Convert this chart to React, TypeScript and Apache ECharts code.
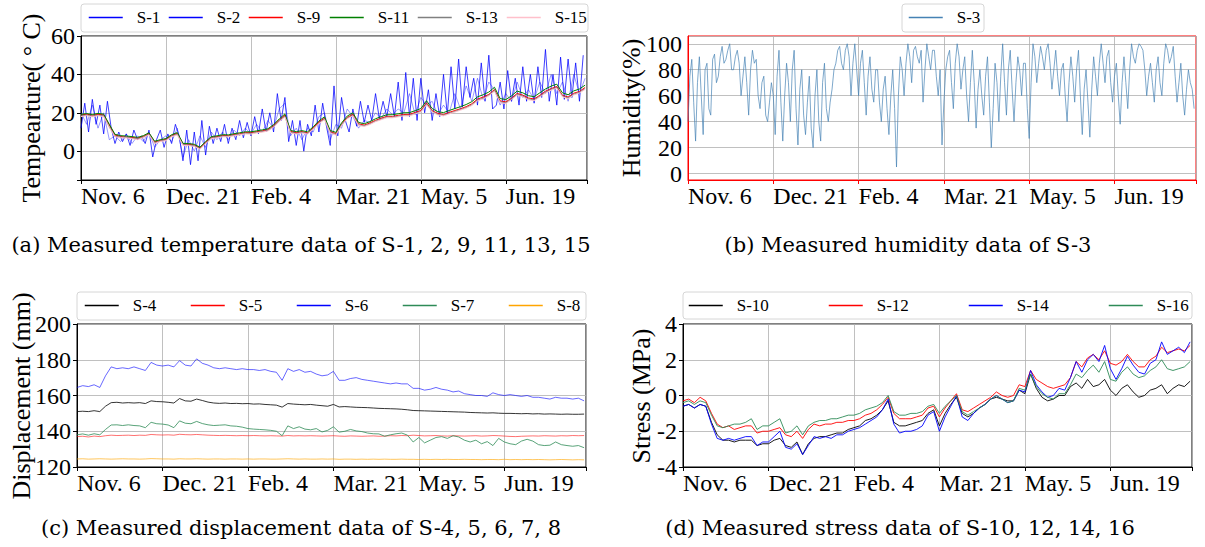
import React, { useEffect, useRef } from 'react';
import * as echarts from 'echarts';

const FONT = 'Liberation Serif';
const CAP_FONT = 'DejaVu Serif';

const TICK_DAYS = [0, 45, 90, 135, 180, 225];
const TICK_LABELS = ['Nov. 6', 'Dec. 21', 'Feb. 4', 'Mar. 21', 'May. 5', 'Jun. 19'];
const X_MAX = 268;
const DAYS = Array.from({ length: 90 }, (_, i) => i * 3);
const DAYS2 = Array.from({ length: 134 }, (_, i) => i * 2);
const DAYS1 = Array.from({ length: 268 }, (_, i) => i);

// (a) temperature
const S1 = [
  12, 25, 10, 27, 14, 24, 9, 26, 12, 4,
  10, 5, 9, 3, 11, 6, 8, 4, 11, -3,
  6, 11, 2, 9, 4, 14, 8, -5, 11, -7,
  10, -5, 16, -2, 13, 4, 12, 5, 14, 4,
  12, 6, 16, 7, 15, 8, 18, 9, 22, 10,
  20, 10, 30, 16, 28, 5, 16, 3, 16, 0,
  14, 8, 24, 10, 25, 13, 3, 34, 8, 28,
  16, 10, 22, 13, 26, 15, 24, 16, 30, 17,
  26, 18, 30, 18, 36, 16, 41, 18, 38, 16,
  38, 20, 32, 16, 30, 18, 40, 19, 44, 22,
  48, 23, 44, 28, 38, 24, 46, 26, 50, 22,
  24, 36, 22, 42, 26, 38, 24, 44, 26, 40,
  25, 44, 28, 53, 26, 40, 24, 49, 27, 48,
  28, 46, 26, 50,
];
const S2 = [
  20, 14, 24, 12, 20, 6, 8, 5, 9, 4,
  8, 5, 10, 2, 6, 8, 5, 12, -3, 6,
  0, 8, 2, 10, 6, 10, 6, 11, 8, 12,
  9, 14, 10, 16, 12, 22, 25, 8, 12, 6,
  12, 10, 18, 20, 6, 14, 12, 22, 18, 12,
  16, 15, 20, 17, 22, 19, 22, 20, 30, 19,
  28, 24, 26, 19, 24, 20, 30, 22, 34, 26,
  38, 27, 36, 32, 24, 30, 26, 36, 28, 32,
  27, 36, 30, 40, 30, 36, 26, 40, 30, 38,
];
const S9 = [
  18.8, 19.3, 18.7, 19.2, 18.9, 13.6, 8.4, 7.7, 7.3, 7.2,
  6.8, 7.7, 9.2, 4.8, 5.6, 6.2, 8.2, 9.3, 3.8, 3.6,
  3.2, 1.7, 4.7, 7.2, 7.6, 8.2, 8.1, 8.7, 9.1, 9.7,
  9.6, 10.2, 10.6, 11.2, 13.3, 16.2, 18.8, 10.3, 9.7, 10.2,
  9.6, 12.1, 15.2, 17.2, 10.2, 9.2, 14.1, 17.6, 19.2, 14.3,
  13.6, 14.7, 16.1, 17.2, 18.2, 18.1, 18.7, 19.1, 19.2, 20.2,
  21.2, 25.2, 21.1, 19.7, 19.1, 20.2, 21.2, 22.1, 23.2, 24.7,
  27.1, 28.2, 29.6, 32.1, 26.2, 25.7, 27.6, 30.1, 29.2, 27.7,
  27.2, 29.1, 31.2, 32.6, 33.7, 29.1, 28.2, 30.2, 31.1, 33.2,
];
const S11 = [
  19.2, 19.6, 19.1, 19.7, 19.3, 14.0, 8.8, 8.1, 7.9, 7.6,
  7.2, 8.1, 9.6, 5.2, 6.0, 6.6, 8.6, 9.7, 4.1, 4.0,
  3.6, 2.1, 5.0, 7.6, 8.0, 8.6, 8.5, 9.1, 9.6, 10.1,
  10.1, 10.6, 11.1, 11.7, 13.8, 16.8, 19.4, 10.8, 10.2, 10.7,
  10.1, 12.7, 15.8, 17.9, 10.8, 9.8, 14.7, 18.3, 20.0, 15.0,
  14.3, 15.4, 16.9, 18.0, 19.0, 19.0, 19.5, 20.0, 20.1, 21.1,
  22.2, 26.3, 22.2, 20.6, 20.1, 21.2, 22.2, 23.2, 24.3, 25.8,
  28.3, 29.4, 30.8, 33.3, 27.4, 26.9, 28.8, 31.3, 30.4, 28.9,
  28.4, 30.4, 32.4, 33.9, 34.9, 30.4, 29.4, 31.4, 32.4, 34.4,
];
const S13 = [
  18.3, 18.8, 18.2, 18.8, 18.3, 12.6, 7.8, 7.3, 7.2, 6.8,
  6.3, 7.3, 8.8, 4.3, 5.3, 5.8, 7.8, 8.8, 3.3, 3.2,
  2.8, 1.3, 4.2, 6.8, 7.2, 7.8, 7.8, 8.3, 8.8, 9.3,
  9.2, 9.8, 10.2, 10.8, 12.8, 15.8, 18.2, 9.8, 9.2, 9.8,
  9.2, 11.8, 14.7, 16.7, 9.7, 8.7, 13.7, 17.2, 18.7, 13.7,
  13.2, 14.2, 15.7, 16.7, 17.7, 17.7, 18.2, 18.7, 18.7, 19.7,
  20.7, 24.6, 20.7, 19.2, 18.7, 19.7, 20.7, 21.7, 22.7, 24.2,
  26.6, 27.6, 29.2, 31.6, 25.7, 25.2, 27.2, 29.6, 28.7, 27.2,
  26.7, 28.6, 30.6, 32.2, 33.2, 28.7, 27.7, 29.7, 30.7, 32.6,
];
const S15 = [
  18.0, 18.5, 17.9, 18.5, 18.0, 12.3, 7.5, 7.0, 6.9, 6.5,
  6.0, 7.0, 8.5, 4.0, 5.0, 5.5, 7.5, 8.5, 3.0, 2.9,
  2.5, 1.0, 3.9, 6.5, 6.9, 7.5, 7.5, 8.0, 8.5, 9.0,
  8.9, 9.5, 9.9, 10.5, 12.5, 15.4, 17.8, 9.5, 8.9, 9.5,
  8.9, 11.5, 14.4, 16.4, 9.4, 8.4, 13.4, 16.9, 18.4, 13.4,
  12.9, 13.9, 15.4, 16.4, 17.4, 17.4, 17.9, 18.4, 18.4, 19.4,
  20.4, 24.2, 20.4, 18.9, 18.4, 19.4, 20.4, 21.4, 22.4, 23.8,
  26.2, 27.2, 28.8, 31.2, 25.3, 24.8, 26.8, 29.2, 28.3, 26.8,
  26.3, 28.2, 30.2, 31.8, 32.8, 28.3, 27.3, 29.3, 30.3, 32.2,
];

// (b) humidity, one value per day
const S3 = [
  40, 75, 88, 55, 25, 70, 90, 60, 30, 80,
  85, 50, 45, 88, 92, 70, 75, 90, 98, 85,
  88, 95, 100, 80, 80, 90, 95, 85, 60, 75,
  90, 70, 45, 80, 95, 85, 88, 60, 50, 70,
  75, 45, 40, 55, 70, 60, 30, 75, 95, 55,
  25, 60, 85, 70, 40, 80, 95, 50, 22, 65,
  80, 45, 30, 55, 75, 35, 20, 60, 80, 40,
  25, 70, 85, 50, 40, 55, 65, 80, 85, 95,
  98, 85, 80, 95, 100, 90, 60, 85, 100, 80,
  60, 85, 95, 70, 45, 75, 90, 65, 55, 80,
  80, 55, 40, 65, 75, 50, 30, 60, 80, 50,
  5, 60, 90, 80, 60, 85, 100, 90, 70, 95,
  98, 90, 85, 95, 55, 80, 100, 90, 80, 95,
  95, 75, 60, 80, 22, 55, 80, 90, 95, 70,
  50, 85, 100, 90, 65, 80, 90, 60, 40, 70,
  95, 70, 35, 65, 80, 60, 45, 75, 90, 55,
  20, 50, 85, 70, 40, 75, 100, 70, 45, 80,
  95, 65, 40, 70, 90, 80, 60, 85, 85, 50,
  27, 70, 100, 90, 70, 85, 98, 90, 80, 95,
  100, 85, 65, 80, 95, 75, 60, 80, 85, 60,
  40, 70, 90, 75, 55, 80, 95, 60, 30, 65,
  80, 55, 28, 65, 90, 75, 60, 85, 100, 85,
  70, 90, 95, 70, 55, 75, 85, 60, 38, 70,
  90, 70, 50, 80, 100, 90, 85, 95, 100, 98,
  95, 80, 60, 75, 85, 70, 55, 80, 90, 70,
  60, 85, 100, 95, 85, 90, 98, 75, 55, 70,
  85, 60, 45, 65, 80, 70, 65, 50,
];

// (c) displacement
const S4 = [
  151, 151.2, 151, 151.5, 151, 154, 156, 156.2, 155.8, 156,
  155.8, 156, 155.5, 157, 156.6, 156.5, 156.2, 155.8, 158.3, 157,
  156.8, 158, 157.2, 156.3, 155.8, 155.6, 155.8, 155.5, 155.6, 155.4,
  155.5, 155.2, 155.3, 155, 154.8, 154.6, 153.5, 155.5, 155.2, 155,
  154.8, 155, 154.6, 154.3, 154, 155, 153.6, 153.8, 153.6, 153.4,
  153.3, 153.2, 153, 152.8, 152.7, 152.6, 152.5, 152.3, 152, 151.6,
  151.5, 151.4, 151.3, 151.2, 151.1, 151, 150.9, 150.8, 150.7, 150.5,
  150.4, 150.3, 150.2, 150.3, 150.1, 150, 150, 149.9, 149.8, 149.9,
  149.7, 149.8, 149.6, 149.7, 149.6, 149.5, 149.6, 149.5, 149.5, 149.6,
];
const S5 = [
  137, 137.2, 136.8, 137.3, 137, 137.5, 137.8, 137.6, 137.7, 137.8,
  137.6, 137.8, 137.7, 138.2, 138, 137.9, 138, 137.8, 138.3, 138.1,
  138, 138.2, 138, 137.8, 137.7, 137.6, 137.7, 137.6, 137.5, 137.6,
  137.5, 137.6, 137.5, 137.4, 137.5, 137.4, 137.3, 137.6, 137.4, 137.5,
  137.4, 137.5, 137.4, 137.3, 137.4, 137.5, 137.3, 137.2, 137.4, 137.3,
  137.2, 137.3, 137.4, 137.2, 137.3, 137.5, 137.4, 137.6, 137.5, 137.8,
  137.6, 137.4, 137.5, 137.6, 137.4, 137.3, 137.5, 137.4, 137.3, 137.4,
  137.5, 137.3, 137.4, 137.6, 137.5, 137.3, 137.1, 137.0, 137.2, 137.3,
  137.4, 137.3, 137.5, 137.4, 137.3, 137.5, 137.4, 137.6, 137.5, 137.6,
];
const S6 = [
  164.5, 165.5, 165, 166, 164.5, 171, 176, 175, 175.5, 175,
  176, 175, 174, 178.5, 177, 176.5, 177, 176, 179.5, 177,
  176.5, 180.5, 178, 177, 175.5, 175, 175.5, 175, 174.5, 175,
  174.5, 174.5, 174, 174.5, 173.5, 173, 168.5, 175, 173.5, 174.5,
  173, 173.5, 172, 171, 171.5, 173.5, 168.5, 168.5, 169.5, 170,
  169, 168.5, 168, 167.5, 167, 166.5, 167, 166.5, 166.5, 164,
  164, 163, 163.5, 164.5, 163.5, 163, 162, 162.5, 161, 160.5,
  160, 160, 159.5, 161.5, 160.5, 160, 160.5, 160, 159.5, 160,
  159, 159, 158.5, 158, 159, 158.5, 158.5, 158, 158.5, 157,
];
const S7 = [
  138, 138.5, 137.8, 138.6, 138, 141, 143.5, 143.6, 143.2, 143.6,
  143.2, 143, 142, 145, 144.2, 144, 143.5, 142, 145.8, 144.5,
  144.2, 145.5, 144.3, 143.6, 143.2, 143.4, 143.6, 143, 142.8, 142.3,
  141.5, 141.2, 141, 140.8, 140.5, 140, 137.5, 143, 141.5, 142.5,
  141.2, 140.8, 141.5, 139.6, 140.5, 142.5, 139.5, 140, 141, 140.2,
  139.8, 139, 138.6, 138.5, 137.2, 138, 138.6, 139, 137.8, 134,
  136.5, 133.5, 135, 136.5, 137, 136, 137.5, 136.8, 135, 134,
  135, 133, 134.2, 132, 136, 134, 133, 132.5, 134.5, 135.5,
  134.5, 132.5, 132, 132.2, 134, 132.5, 132, 131.6, 132, 130.8,
];
const S8 = [
  124.5, 124.6, 124.4, 124.5, 124.6, 124.5, 124.4, 124.5, 124.6, 124.5,
  124.5, 124.4, 124.5, 124.7, 124.6, 124.5, 124.5, 124.4, 124.6, 124.5,
  124.5, 124.6, 124.5, 124.4, 124.5, 124.5, 124.4, 124.5, 124.5, 124.4,
  124.5, 124.4, 124.5, 124.5, 124.4, 124.4, 124.5, 124.6, 124.5, 124.4,
  124.5, 124.4, 124.4, 124.5, 124.4, 124.5, 124.3, 124.4, 124.4, 124.3,
  124.4, 124.3, 124.4, 124.3, 124.4, 124.3, 124.3, 124.4, 124.3, 124.3,
  124.2, 124.3, 124.2, 124.3, 124.2, 124.3, 124.2, 124.2, 124.3, 124.2,
  124.2, 124.1, 124.2, 124.2, 124.1, 124.3, 124.1, 124.2, 124.1, 124.2,
  124.1, 124.2, 124.1, 124.0, 124.1, 124.2, 124.1, 124.0, 124.1, 124.0,
];

// (d) stress
const S10 = [
  -0.6, -0.5, -0.7, -0.5, -0.6, -1.5, -2.2, -2.5, -2.5, -2.6,
  -2.5, -2.5, -2.5, -2.8, -2.7, -2.7, -2.5, -2.4, -2.8, -2.9,
  -2.6, -3.3, -2.7, -2.4, -2.3, -2.3, -2.2, -2.1, -2.1, -1.9,
  -1.8, -1.7, -1.4, -1.3, -1.1, -0.8, -0.3, -1.5, -1.7, -1.7,
  -1.6, -1.5, -1.4, -1.0, -0.8, -1.7, -1.0, -0.5, -0.1, -1.0,
  -1.2, -1.0, -0.7, -0.5, -0.2, -0.1, -0.2, -0.3, -0.3, 0.3,
  0.1, 1.2, 0.4, -0.1, -0.3, -0.2, 0.0, 0.0, 0.5, 0.7,
  0.4, 0.9, 0.5, 0.6, 0.9, 0.3, 0.0, 0.4, 0.6, 0.2,
  -0.1, 0.0, 0.3, 0.4, 0.6, 0.1, 0.4, 0.6, 0.5, 0.8,
];
const S12 = [
  -0.3, -0.2, -0.4, -0.1, -0.3, -1.0, -1.6, -1.8, -1.7, -1.9,
  -1.8, -1.7, -1.7, -2.1, -2.0, -2.0, -1.9, -1.8, -2.2, -2.3,
  -2.0, -2.4, -1.9, -1.6, -1.7, -1.6, -1.6, -1.5, -1.5, -1.4,
  -1.4, -1.3, -1.1, -1.0, -0.8, -0.5, -0.1, -1.0, -1.3, -1.3,
  -1.3, -1.2, -1.1, -0.7, -0.6, -1.2, -0.7, -0.3, 0.1, -0.8,
  -0.9, -0.7, -0.5, -0.3, -0.1, 0.2, 0.0, -0.1, 0.0, 0.6,
  0.5, 1.4, 0.9, 0.7, 0.5, 0.4, 0.5, 0.6, 1.0, 1.9,
  1.6, 2.1, 2.3, 2.0, 2.5, 1.8, 1.7, 1.9, 2.3, 1.9,
  1.6, 1.6, 2.0, 2.2, 2.7, 2.4, 2.5, 2.6, 2.5, 2.8,
];
const S14 = [
  -0.6, -0.5, -0.7, -0.5, -0.6, -1.6, -2.4, -2.5, -2.4, -2.5,
  -2.4, -2.3, -2.3, -2.8, -2.6, -2.6, -2.3, -2.0, -2.9, -3.0,
  -2.7, -3.3, -2.8, -2.3, -2.4, -2.3, -2.4, -2.2, -2.2, -2.0,
  -1.9, -1.8, -1.6, -1.4, -1.2, -0.8, -0.2, -1.6, -2.1, -2.0,
  -2.0, -1.9, -1.7, -1.1, -0.9, -2.0, -1.2, -0.6, 0.0, -1.2,
  -1.4, -1.0, -0.7, -0.5, -0.2, 0.0, -0.2, -0.4, -0.3, 0.3,
  0.2, 1.4, 0.6, 0.2, -0.1, 0.0, 0.4, 0.3, 1.0, 1.9,
  1.3, 2.0, 2.3, 1.9, 2.8, 1.5, 0.9, 1.5, 2.2, 1.7,
  1.3, 1.2, 1.8, 2.0, 3.0, 2.3, 2.5, 2.7, 2.4, 3.0,
];
const S16 = [
  -0.4, -0.3, -0.5, -0.3, -0.4, -1.1, -1.7, -1.8, -1.7, -1.6,
  -1.6, -1.5, -1.3, -1.9, -1.7, -1.7, -1.5, -1.3, -2.1, -2.0,
  -1.7, -2.2, -1.7, -1.5, -1.4, -1.4, -1.3, -1.3, -1.2, -1.1,
  -1.1, -1.0, -0.8, -0.7, -0.6, -0.4, 0.0, -0.9, -1.1, -1.1,
  -1.0, -1.0, -0.9, -0.6, -0.5, -1.0, -0.6, -0.3, 0.0, -0.9,
  -1.1, -0.9, -0.7, -0.5, -0.2, 0.0, -0.2, -0.4, -0.3, 0.4,
  0.3, 1.2, 0.5, 0.1, -0.1, -0.2, 0.1, 0.1, 0.6, 1.2,
  1.0, 1.4, 1.7, 1.3, 1.9, 0.9, 0.8, 1.3, 1.6, 1.2,
  1.0, 1.1, 1.4, 1.6, 2.0, 1.5, 1.4, 1.5, 1.6, 1.9,
];

const GRID_COLOR = '#b0b0b0';

function xAxisDef(gridIndex: number, color: string) {
  return {
    type: 'value', gridIndex, min: 0, max: X_MAX, interval: 45,
    axisLine: { show: true, onZero: false, lineStyle: { color, width: 1 } },
    axisTick: { show: true, length: 4, lineStyle: { color, width: 1 } },
    axisLabel: {
      show: true, align: 'left', margin: 4, fontSize: 24, fontFamily: FONT, color: '#000',
      formatter: (v: number) => {
        const k = TICK_DAYS.indexOf(Math.round(v));
        return k >= 0 && Math.abs(v - TICK_DAYS[k]) < 1e-6 ? TICK_LABELS[k] : '';
      },
    },
    splitLine: { show: true, lineStyle: { color: GRID_COLOR, width: 0.8 } },
  };
}

function yAxisDef(gridIndex: number, min: number, max: number, step: number, fixed: boolean, color: string, showTick: boolean) {
  const ax: any = {
    type: 'value', gridIndex, min, max,
    axisLine: { show: true, onZero: false, lineStyle: { color, width: 1 } },
    axisTick: { show: showTick, length: 4, lineStyle: { color, width: 1 } },
    axisLabel: {
      margin: 6, fontSize: 24, fontFamily: FONT, color: '#000',
      formatter: (v: number) => (Math.abs(v / step - Math.round(v / step)) < 1e-9 ? String(Math.round(v)) : ''),
    },
    splitLine: { show: true, lineStyle: { color: GRID_COLOR, width: 0.8 } },
  };
  if (fixed) ax.interval = step;
  return ax;
}

function line(name: string, idx: number, days: number[], vals: number[], color: string, width: number, opacity = 1) {
  return {
    name, type: 'line', xAxisIndex: idx, yAxisIndex: idx,
    data: days.map((d, i) => [d, vals[i]]),
    symbol: 'none', silent: true,
    lineStyle: { color, width, opacity },
    itemStyle: { color },
  };
}

function legendItem(name: string, left: number, top: number) {
  return {
    data: [name], left, top, padding: 0, itemGap: 0, itemWidth: 34, itemHeight: 14,
    selectedMode: false, z: 10,
    lineStyle: { opacity: 1, width: 1.5 },
    itemStyle: { color: 'rgba(0,0,0,0)', borderColor: 'rgba(0,0,0,0)', borderWidth: 0, opacity: 0 },
    textStyle: { fontFamily: FONT, fontSize: 17, color: '#000', padding: [0, 0, 0, 9] },
  };
}

function boxRect(x: number, y: number, w: number, h: number) {
  return {
    type: 'rect', z: 1, silent: true,
    shape: { x, y, width: w, height: h, r: 3 },
    style: { fill: '#fff', stroke: '#d6d6d6', lineWidth: 1 },
  };
}

function yTitle(text: string, x: number, y: number) {
  return {
    type: 'text', x, y, rotation: Math.PI / 2, silent: true,
    style: { text, fontFamily: FONT, fontSize: 26, fill: '#000', align: 'center', verticalAlign: 'middle', textAlign: 'center', textVerticalAlign: 'middle' },
  };
}

function caption(text: string, x: number, y: number) {
  return {
    type: 'text', x, y, silent: true,
    style: { text, fontFamily: CAP_FONT, fontSize: 21, fill: '#000', align: 'center', verticalAlign: 'middle', textAlign: 'center', textVerticalAlign: 'middle' },
  };
}

export default function App() {
  const ref = useRef<HTMLDivElement>(null);
  useEffect(() => {
    if (!ref.current) return;
    const chart = echarts.init(ref.current, null, { renderer: 'svg' });
    const option: any = {
      animation: false,
      backgroundColor: '#fff',
      textStyle: { fontFamily: FONT },
      grid: [
        { left: 81, top: 36, width: 506, height: 144, show: true, borderColor: '#000', borderWidth: 1, backgroundColor: 'transparent' },
        { left: 688, top: 36, width: 508, height: 144, show: true, borderColor: '#ff0000', borderWidth: 1, backgroundColor: 'transparent' },
        { left: 77, top: 324, width: 509, height: 143, show: true, borderColor: '#000', borderWidth: 1, backgroundColor: 'transparent' },
        { left: 683, top: 324, width: 509, height: 143, show: true, borderColor: '#000', borderWidth: 1, backgroundColor: 'transparent' },
      ],
      xAxis: [xAxisDef(0, '#000'), xAxisDef(1, '#ff0000'), xAxisDef(2, '#000'), xAxisDef(3, '#000')],
      yAxis: [
        yAxisDef(0, -15, 60, 20, false, '#000', true),
        yAxisDef(1, -5, 106, 20, false, '#ff0000', false),
        yAxisDef(2, 120, 200, 20, true, '#000', true),
        yAxisDef(3, -4, 4, 2, true, '#000', true),
      ],
      legend: [
        legendItem('S-1', 88, 9), legendItem('S-2', 168, 9), legendItem('S-9', 248, 9),
        legendItem('S-11', 329, 9), legendItem('S-13', 417, 9), legendItem('S-15', 506, 9),
        legendItem('S-3', 908, 9),
        legendItem('S-4', 84, 297), legendItem('S-5', 190, 297), legendItem('S-6', 296, 297),
        legendItem('S-7', 402, 297), legendItem('S-8', 508, 297),
        legendItem('S-10', 688, 297), legendItem('S-12', 828, 297), legendItem('S-14', 968, 297),
        legendItem('S-16', 1108, 297),
      ],
      graphic: [
        boxRect(81, 4, 507, 28),
        boxRect(902, 4, 82, 28),
        boxRect(77, 292, 509, 28),
        boxRect(683, 292, 509, 27),
        yTitle('Tempearture( ° C)', 31, 108),
        yTitle('Humidity(%)', 631, 108),
        yTitle('Displacement (mm)', 21, 396),
        yTitle('Stress (MPa)', 641, 396),
        caption('(a) Measured temperature data of S-1, 2, 9, 11, 13, 15', 301, 245),
        caption('(b) Measured humidity data of S-3', 908, 245),
        caption('(c) Measured displacement data of S-4, 5, 6, 7, 8', 301, 528),
        caption('(d) Measured stress data of S-10, 12, 14, 16', 900, 528),
      ],
      series: [
        line('S-1', 0, DAYS2, S1, '#0000ff', 0.8, 0.95),
        line('S-2', 0, DAYS, S2, '#0000ff', 1, 0.4),
        line('S-9', 0, DAYS, S9, '#ff0000', 1),
        line('S-11', 0, DAYS, S11, '#008000', 1),
        line('S-13', 0, DAYS, S13, '#808080', 1),
        line('S-15', 0, DAYS, S15, '#ffc0cb', 1),
        line('S-3', 1, DAYS1, S3, '#4682b4', 0.7),
        line('S-4', 2, DAYS, S4, '#000000', 0.8),
        line('S-5', 2, DAYS, S5, '#ff0000', 0.8, 0.7),
        line('S-6', 2, DAYS, S6, '#0000ff', 0.8, 0.75),
        line('S-7', 2, DAYS, S7, '#2e8b57', 0.8),
        line('S-8', 2, DAYS, S8, '#ffa500', 0.8, 0.8),
        line('S-10', 3, DAYS, S10, '#000000', 0.9),
        line('S-12', 3, DAYS, S12, '#ff0000', 0.9),
        line('S-14', 3, DAYS, S14, '#0000ff', 0.9),
        line('S-16', 3, DAYS, S16, '#2e8b57', 0.9),
      ],
    };
    chart.setOption(option);
    return () => chart.dispose();
  }, []);
  return (
    <div
      ref={ref}
      style={{ position: 'fixed', left: 0, top: 0, width: 1205, height: 547, background: '#fff' }}
    />
  );
}
